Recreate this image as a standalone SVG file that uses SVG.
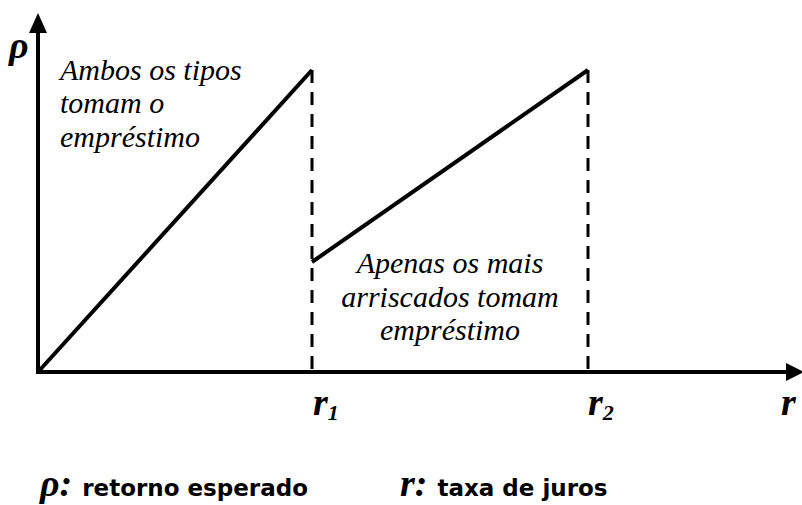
<svg xmlns="http://www.w3.org/2000/svg" width="802" height="505" viewBox="0 0 802 505">
<style>
.ax{stroke:#000;stroke-width:4;fill:none}
.ln{stroke:#000;stroke-width:4;fill:none}
.ds{stroke:#000;stroke-width:3;stroke-dasharray:13,9;fill:none}
.it{font-family:"Liberation Serif",serif;font-style:italic;font-size:30px;fill:#000}
.lb{font-family:"Liberation Serif",serif;font-style:italic;font-weight:bold;font-size:38px;fill:#000}
.sb{font-family:"DejaVu Sans",sans-serif;font-weight:bold;font-size:23px;fill:#000}
</style>
<rect width="802" height="505" fill="#fff"/>
<g id="connectors">
<line class="ax" x1="38" y1="374" x2="38" y2="30"/>
<polygon points="38,13 29,33 47,33" fill="#000"/>
<line class="ax" x1="36" y1="372" x2="786" y2="372"/>
<polygon points="804,372 786,363 786,381" fill="#000"/>
<line class="ln" x1="38" y1="372" x2="312" y2="70"/>
<line class="ln" x1="312" y1="262" x2="588" y2="70"/>
<line class="ds" x1="312" y1="70" x2="312" y2="372"/>
<line class="ds" x1="588" y1="70" x2="588" y2="372"/>
</g>
<g id="label-both">
<text class="it" x="60" y="80">Ambos os tipos</text>
<text class="it" x="60" y="113">tomam o</text>
<text class="it" x="60" y="147">empréstimo</text>
</g>
<g id="label-risky">
<text class="it" x="450" y="273" text-anchor="middle">Apenas os mais</text>
<text class="it" x="450" y="307" text-anchor="middle">arriscados tomam</text>
<text class="it" x="450" y="340" text-anchor="middle">empréstimo</text>
</g>
<g id="axis-labels">
<text class="lb" x="9" y="58" font-size="34">ρ</text>
<text class="lb" x="313" y="415">r<tspan font-size="22" dy="5">1</tspan></text>
<text class="lb" x="588" y="415">r<tspan font-size="22" dy="5">2</tspan></text>
<text class="lb" x="781" y="415">r</text>
</g>
<g id="legend">
<text x="40" y="496"><tspan class="lb" font-size="30">ρ:</tspan><tspan class="sb" dx="10">retorno esperado</tspan></text>
<text x="400" y="496"><tspan class="lb" font-size="30">r:</tspan><tspan class="sb" dx="10">taxa de juros</tspan></text>
</g>
</svg>
